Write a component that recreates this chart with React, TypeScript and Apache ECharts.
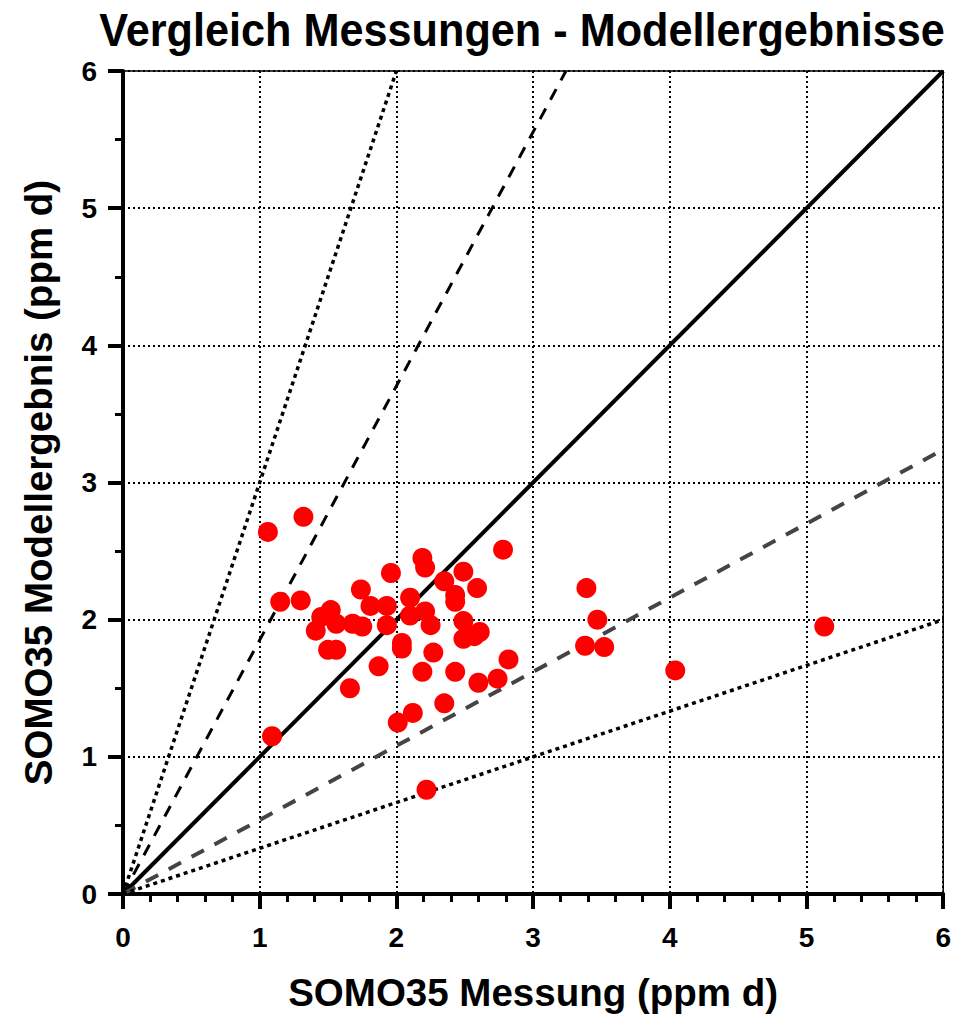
import React, { useEffect, useRef } from "react";
import * as echarts from "echarts";

const titleText = "Vergleich Messungen - Modellergebnisse";
const xAxisName = "SOMO35 Messung (ppm d)";
const yAxisName = "SOMO35 Modellergebnis (ppm d)";

const measured = [
  1.06, 1.32, 1.15, 1.30, 1.09, 1.45, 1.52, 1.41, 1.56, 1.68, 1.75, 1.50, 1.56,
  1.74, 1.81, 1.93, 1.96, 1.93, 2.04, 2.04, 1.87, 1.66, 2.19, 2.21, 2.10, 2.10,
  2.21, 2.25, 2.78, 2.49, 2.35, 2.59, 2.43, 2.43, 2.49, 2.61, 2.57, 2.49, 2.27,
  2.19, 2.43, 2.82, 2.74, 2.60, 2.35, 2.12, 2.01, 2.22, 3.39, 3.47, 3.38, 3.52,
  4.04, 5.13,
];
const modelled = [
  2.64, 2.75, 2.13, 2.14, 1.15, 2.02, 2.07, 1.92, 1.97, 1.97, 1.95, 1.78, 1.78,
  2.22, 2.10, 2.10, 2.34, 1.96, 1.83, 1.79, 1.66, 1.50, 2.45, 2.38, 2.16, 2.03,
  2.06, 1.96, 2.51, 2.35, 2.28, 2.23, 2.18, 2.13, 1.99, 1.91, 1.88, 1.86, 1.76,
  1.62, 1.62, 1.71, 1.57, 1.54, 1.39, 1.32, 1.25, 0.76, 2.23, 2.00, 1.81, 1.80,
  1.63, 1.95,
];

// reference lines: [x0, y0, x1, y1]
const lineOneToOne = [0, 0, 6, 6];
const lineUpperDashed = [0, 0, 3.24, 6];
const lineLowerDashed = [0, 0, 6, 3.24];
const lineUpperDotted = [0, 0, 2, 6];
const lineLowerDotted = [0, 0, 6, 2];

const axisMin = 0;
const axisMax = 6;
const axisInterval = 1;

export default function App() {
  const ref = useRef<HTMLDivElement>(null);

  useEffect(() => {
    document.body.style.margin = "0";
    if (!ref.current) return;
    const chart = echarts.init(ref.current, null, { renderer: "svg" });
    const font = "'Liberation Sans', Arial, Helvetica, sans-serif";
    const seg = (l: number[]) => [
      [l[0], l[1]],
      [l[2], l[3]],
    ];
    const refLine = (name: string, l: number[], color: string, width: number, type: any) => ({
      name,
      type: "line",
      data: seg(l),
      showSymbol: false,
      symbol: "none",
      silent: true,
      z: 2,
      lineStyle: { color, width, type, cap: "butt" },
    });
    const option: any = {
      animation: false,
      backgroundColor: "#ffffff",
      graphic: [
        {
          type: "text",
          x: 522,
          y: 30,
          scaleX: 0.94,
          style: {
            text: titleText,
            fontFamily: font,
            fontWeight: "bold",
            fontSize: 46,
            fill: "#000",
            textAlign: "center",
            textVerticalAlign: "middle",
          },
        },
      ],
      grid: {
        left: 123,
        right: 8,
        top: 71,
        bottom: 125,
        show: true,
        borderColor: "#000",
        borderWidth: 1.5,
        backgroundColor: "transparent",
      },
      xAxis: {
        type: "value",
        min: axisMin,
        max: axisMax,
        interval: axisInterval,
        name: xAxisName,
        nameLocation: "middle",
        nameGap: 79,
        nameTextStyle: { fontFamily: font, fontWeight: "bold", fontSize: 38.5, color: "#000" },
        axisLine: { show: true, onZero: false, lineStyle: { color: "#000", width: 4 } },
        axisTick: { show: true, length: 15, lineStyle: { color: "#000", width: 4 } },
        minorTick: { show: true, splitNumber: 5, length: 8, lineStyle: { color: "#000", width: 3 } },
        axisLabel: { margin: 29, fontFamily: font, fontWeight: "bold", fontSize: 28, color: "#000" },
        splitLine: { show: true, lineStyle: { color: "#000", width: 2, type: [2, 3] } },
      },
      yAxis: {
        type: "value",
        min: axisMin,
        max: axisMax,
        interval: axisInterval,
        name: yAxisName,
        nameLocation: "middle",
        nameGap: 65,
        nameTextStyle: { fontFamily: font, fontWeight: "bold", fontSize: 38.5, color: "#000" },
        axisLine: { show: true, onZero: false, lineStyle: { color: "#000", width: 4 } },
        axisTick: { show: true, length: 15, lineStyle: { color: "#000", width: 4 } },
        minorTick: { show: true, splitNumber: 2, length: 8, lineStyle: { color: "#000", width: 3 } },
        axisLabel: { margin: 26, fontFamily: font, fontWeight: "bold", fontSize: 28, color: "#000" },
        splitLine: { show: true, lineStyle: { color: "#000", width: 2, type: [2, 3] } },
      },
      series: [
        refLine("1:1", lineOneToOne, "#000", 4, "solid"),
        refLine("upper dashed", lineUpperDashed, "#000", 3, [12, 10]),
        refLine("lower dashed", lineLowerDashed, "#444", 4, [14, 12]),
        refLine("upper dotted", lineUpperDotted, "#000", 3.5, [4, 4]),
        refLine("lower dotted", lineLowerDotted, "#000", 3.5, [4, 4]),
        {
          name: "Stationen",
          type: "scatter",
          z: 5,
          symbol: "circle",
          symbolSize: 20,
          itemStyle: { color: "#ff0000", opacity: 1 },
          data: measured.map((x, i) => [x, modelled[i]]),
        },
      ],
    };
    chart.setOption(option);
    return () => chart.dispose();
  }, []);

  return <div ref={ref} style={{ width: 954, height: 1019 }} />;
}
